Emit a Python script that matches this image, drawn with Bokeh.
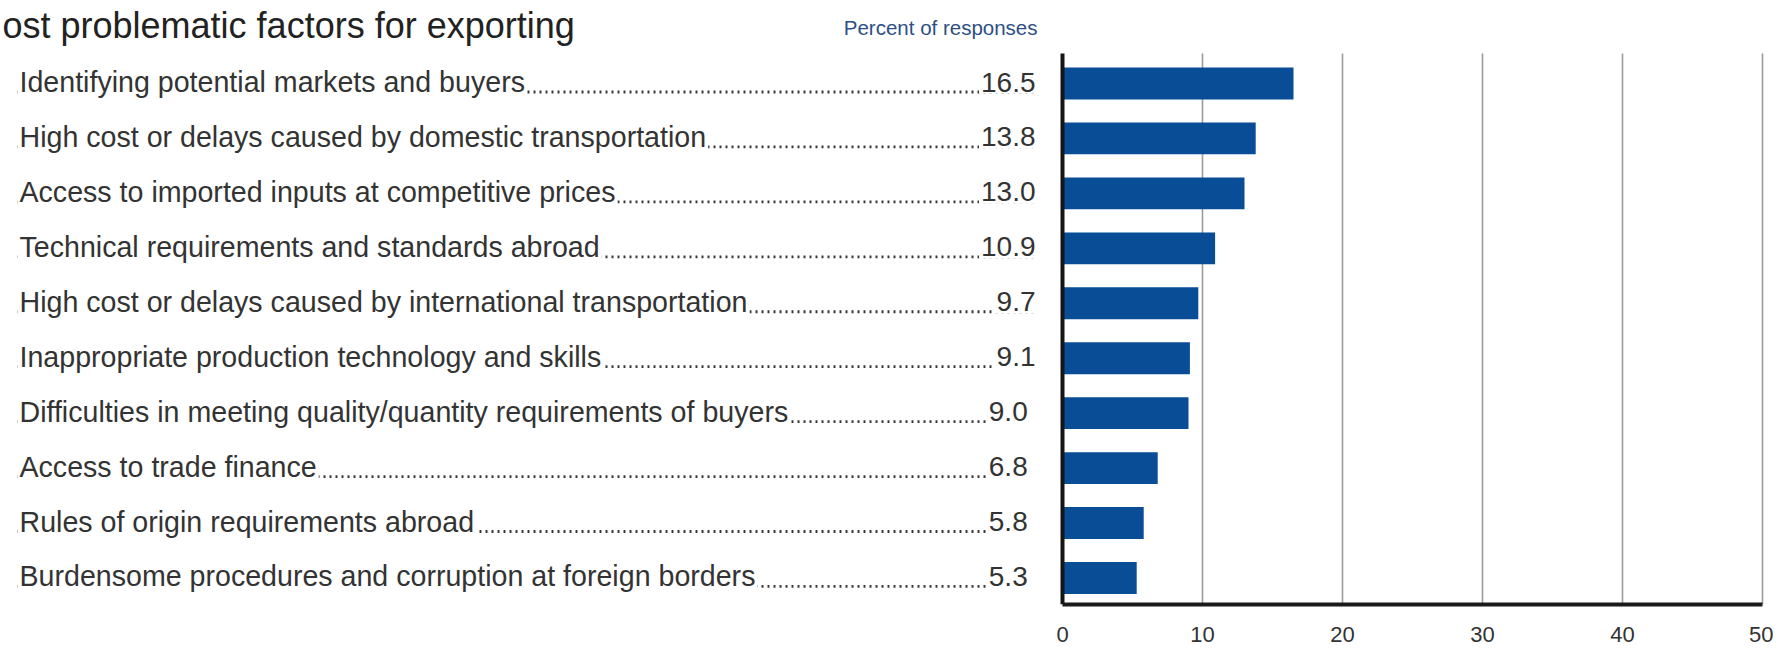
from bokeh.plotting import figure
from bokeh.models import Range1d, FixedTicker
from bokeh.core.properties import value
from bokeh.embed import file_html
from bokeh.resources import INLINE

# ---------------- data ----------------
title_text = "ost problematic factors for exporting"
unit_text = "Percent of responses"
factors = [
    "Identifying potential markets and buyers",
    "High cost or delays caused by domestic transportation",
    "Access to imported inputs at competitive prices",
    "Technical requirements and standards abroad",
    "High cost or delays caused by international transportation",
    "Inappropriate production technology and skills",
    "Difficulties in meeting quality/quantity requirements of buyers",
    "Access to trade finance",
    "Rules of origin requirements abroad",
    "Burdensome procedures and corruption at foreign borders",
]
shares = [16.5, 13.8, 13.0, 10.9, 9.7, 9.1, 9.0, 6.8, 5.8, 5.3]
share_labels = ["16.5", "13.8", "13.0", "10.9", "9.7", "9.1", " 9.0", " 6.8", " 5.8", " 5.3"]
x_ticks = [0, 10, 20, 30, 40, 50]

# ---------------- layout ----------------
W, H = 1773, 648
FRAME_H = 604                 # frame bottom (x axis line) at y 604
PX_X = 14.0                   # px per percent
X0_PX = 1062                  # px of x = 0
ROW_PX = 54.94                # px per row
ROW0_PX = 83                  # px of first row centre

def dx(px):
    return (px - X0_PX) / PX_X

def dy(py):
    return (py - ROW0_PX) / ROW_PX

x_range = Range1d(-X0_PX / PX_X, (W - X0_PX) / PX_X)
y_range = Range1d(start=(FRAME_H - ROW0_PX) / ROW_PX, end=-ROW0_PX / ROW_PX)

FONT = "Liberation Sans, Arial, Helvetica"

p = figure(width=W, height=H, x_range=x_range, y_range=y_range,
           output_backend="svg", toolbar_location=None,
           x_axis_location="below", y_axis_location=None,
           min_border_left=0, min_border_right=0, min_border_top=0,
           min_border_bottom=H - FRAME_H)
p.outline_line_color = None
p.grid.visible = False
p.background_fill_color = "white"

rows = list(range(len(factors)))
grid_top = dy(53)
grid_bottom = y_range.start

# grid lines
p.segment(x0=x_ticks[1:], x1=x_ticks[1:], y0=grid_top, y1=grid_bottom,
          line_color="#9c9c9c", line_width=1.6)

# bars
p.hbar(y=rows, left=0, right=shares, height=0.58,
       fill_color="#0a4d97", line_color=None)

# left axis line
p.segment(x0=x_ticks[:1], x1=x_ticks[:1], y0=grid_top, y1=grid_bottom,
          line_color="#151515", line_width=4)

# leader dots
label_x = dx(17)
val_x = dx(1037)
dot_y = [r + 8.5 / ROW_PX for r in rows]
dots = p.segment(x0=label_x, x1=val_x, y0=dot_y, y1=dot_y,
                 line_color="#3a3a3a", line_width=2.8)
dots.glyph.line_dash = "2 4"

text_y = [r - 1.5 / ROW_PX for r in rows]

# category labels (white background hides the dots under the text)
p.text(x=label_x, y=text_y, text=factors,
       text_font=value(FONT), text_font_size="28.6px", text_color="#333333",
       text_align="left", text_baseline="middle",
       background_fill_color="white", padding=2)

# value labels
p.text(x=val_x, y=text_y, text=share_labels,
       text_font=value(FONT), text_font_size="28px", text_color="#333333",
       text_align="right", text_baseline="middle",
       background_fill_color="white", padding=2)

# title and unit
p.text(x=[dx(2)], y=[dy(25)], text=[title_text],
       text_font=value(FONT), text_font_size="36px", text_color="#222222",
       text_align="left", text_baseline="middle")
p.text(x=[val_x], y=[dy(27)], text=[unit_text],
       text_font=value(FONT), text_font_size="20.5px", text_color="#2d4f85",
       text_align="right", text_baseline="middle")

# x axis
ax = p.xaxis[0]
ax.ticker = FixedTicker(ticks=x_ticks)
ax.bounds = (x_ticks[0], x_ticks[-1])
ax.axis_line_width = 4
ax.axis_line_color = "#1a1a1a"
ax.major_tick_line_color = None
ax.minor_tick_line_color = None
ax.major_label_text_font = FONT
ax.major_label_text_font_size = "22px"
ax.major_label_text_color = "#333333"
ax.major_label_standoff = 16

open("out.html", "w").write(file_html(p, INLINE))
